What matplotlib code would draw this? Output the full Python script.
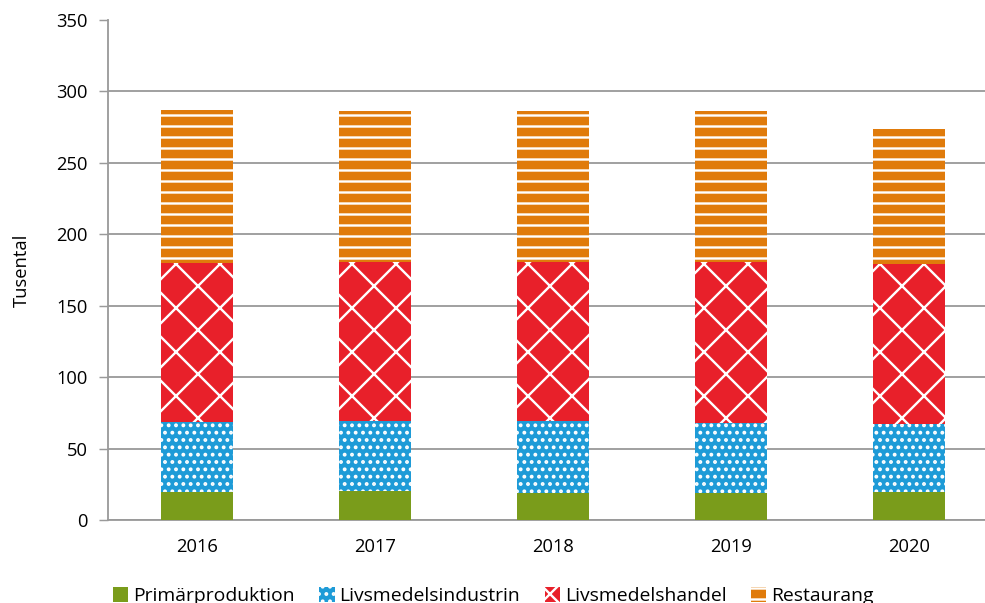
import numpy as np
import matplotlib.pyplot as plt
from matplotlib.patches import Patch

years = ['2016', '2017', '2018', '2019', '2020']
series = ['Primärproduktion', 'Livsmedelsindustrin', 'Livsmedelshandel', 'Restaurang']
primar = [19.6, 20.3, 18.9, 18.9, 19.6]
industri = [49.0, 49.0, 50.4, 49.0, 47.6]
handel = [111.3, 111.3, 111.3, 112.7, 112.0]
restaurang = [107.1, 105.7, 105.7, 105.7, 94.5]

colors = ['#7A9C1B', '#1E9BD7', '#E8202A', '#E07B0B']
hatches = ['', '...', 'x', '--']

dpi = 132
plt.rcParams['font.family'] = ['Open Sans', 'DejaVu Sans']
plt.rcParams['hatch.color'] = 'white'
plt.rcParams['hatch.linewidth'] = 1.3

fig = plt.figure(figsize=(985 / dpi, 603 / dpi), dpi=dpi)
ax = fig.add_axes([108 / 985, 1 - 520 / 603, 890 / 985, 500 / 603])

x = np.arange(len(years))
bottom = np.zeros(len(years))
for vals, c, h, name in zip([primar, industri, handel, restaurang], colors, hatches, series):
    ax.bar(x, vals, 0.4, bottom=bottom, color=c, hatch=h, edgecolor='white',
           linewidth=0, label=name, zorder=3)
    bottom += np.array(vals)

ax.set_xlim(-0.5, 4.5)
ax.set_ylim(0, 350)
ax.set_yticks(np.arange(0, 351, 50))
ax.set_xticks(x)
ax.set_xticklabels(years)
ax.tick_params(axis='x', length=0, labelsize=10, pad=10)
ax.tick_params(axis='y', length=5, color='#9a9a9a', labelsize=10, pad=6)
ax.yaxis.grid(True, color='#9a9a9a', linewidth=1.0, zorder=0)
ax.get_ygridlines()[-1].set_visible(False)
ax.set_axisbelow(True)
for s in ['top', 'right']:
    ax.spines[s].set_visible(False)
for s in ['left', 'bottom']:
    ax.spines[s].set_color('#9a9a9a')
    ax.spines[s].set_linewidth(1.0)
ax.set_ylabel('Tusental', fontsize=10, labelpad=14)

handles = [Patch(facecolor=c, hatch=h, edgecolor='white', linewidth=0)
           for c, h in zip(colors, hatches)]
fig.legend(handles, series, loc='lower left', bbox_to_anchor=(105 / 985, -0.016),
           ncol=4, frameon=False, fontsize=10.6, handlelength=0.8, handleheight=0.8,
           handletextpad=0.25, columnspacing=1.25, borderaxespad=0)

fig.savefig('out.png', dpi=dpi)
